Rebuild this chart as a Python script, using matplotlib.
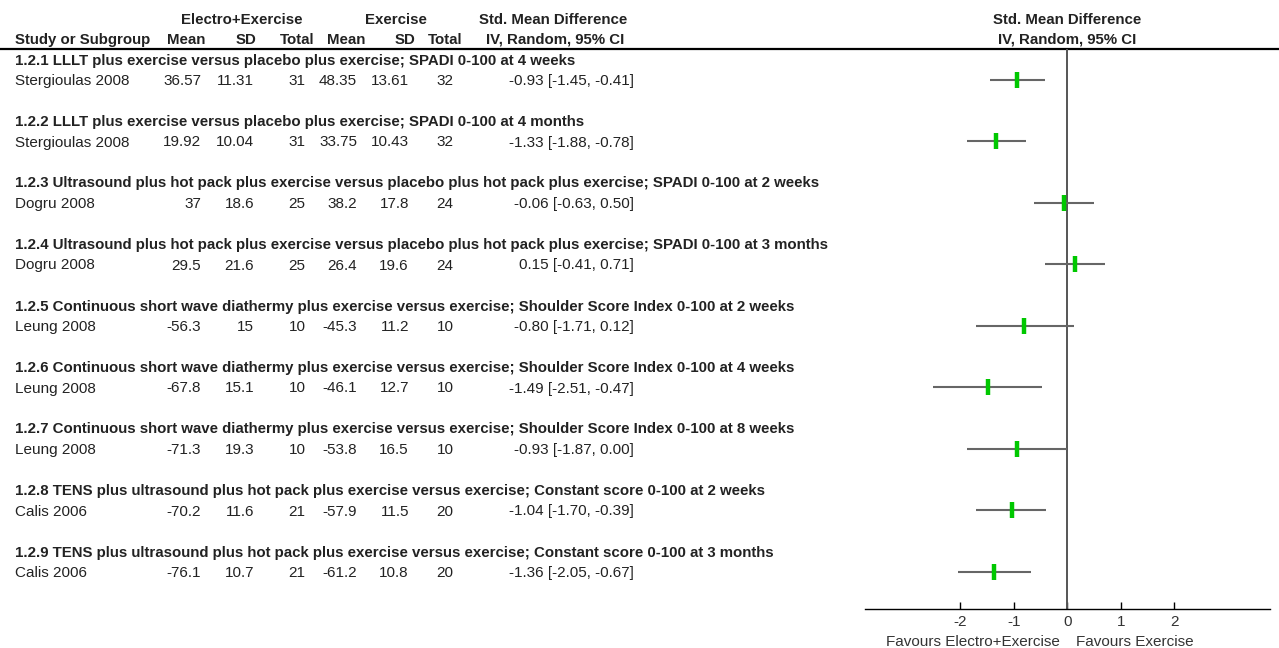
import numpy as np
import matplotlib.pyplot as plt

plt.rcParams['font.family'] = ['Liberation Sans', 'DejaVu Sans']

# data
subgroups = [
    "1.2.1 LLLT plus exercise versus placebo plus exercise; SPADI 0-100 at 4 weeks",
    "1.2.2 LLLT plus exercise versus placebo plus exercise; SPADI 0-100 at 4 months",
    "1.2.3 Ultrasound plus hot pack plus exercise versus placebo plus hot pack plus exercise; SPADI 0-100 at 2 weeks",
    "1.2.4 Ultrasound plus hot pack plus exercise versus placebo plus hot pack plus exercise; SPADI 0-100 at 3 months",
    "1.2.5 Continuous short wave diathermy plus exercise versus exercise; Shoulder Score Index 0-100 at 2 weeks",
    "1.2.6 Continuous short wave diathermy plus exercise versus exercise; Shoulder Score Index 0-100 at 4 weeks",
    "1.2.7 Continuous short wave diathermy plus exercise versus exercise; Shoulder Score Index 0-100 at 8 weeks",
    "1.2.8 TENS plus ultrasound plus hot pack plus exercise versus exercise; Constant score 0-100 at 2 weeks",
    "1.2.9 TENS plus ultrasound plus hot pack plus exercise versus exercise; Constant score 0-100 at 3 months",
]
studies = ["Stergioulas 2008", "Stergioulas 2008", "Dogru 2008", "Dogru 2008",
           "Leung 2008", "Leung 2008", "Leung 2008", "Calis 2006", "Calis 2006"]
e_mean = ["36.57", "19.92", "37", "29.5", "-56.3", "-67.8", "-71.3", "-70.2", "-76.1"]
e_sd = ["11.31", "10.04", "18.6", "21.6", "15", "15.1", "19.3", "11.6", "10.7"]
e_n = [31, 31, 25, 25, 10, 10, 10, 21, 21]
c_mean = ["48.35", "33.75", "38.2", "26.4", "-45.3", "-46.1", "-53.8", "-57.9", "-61.2"]
c_sd = ["13.61", "10.43", "17.8", "19.6", "11.2", "12.7", "16.5", "11.5", "10.8"]
c_n = [32, 32, 24, 24, 10, 10, 10, 20, 20]
smd = np.array([-0.93, -1.33, -0.06, 0.15, -0.80, -1.49, -0.93, -1.04, -1.36])
lo = np.array([-1.45, -1.88, -0.63, -0.41, -1.71, -2.51, -1.87, -1.70, -2.05])
hi = np.array([-0.41, -0.78, 0.50, 0.71, 0.12, -0.47, 0.00, -0.39, -0.67])
ticks = [-2, -1, 0, 1, 2]

W, H = 1279, 648
fig = plt.figure(figsize=(W / 100, H / 100), dpi=100)
ax = fig.add_axes([0, 0, 1, 1])
ax.set_xlim(0, W)
ax.set_ylim(H, 0)
ax.axis('off')

fs = 11
fsb = 10.8
tc = '#222222'
y0, dy = 59, 20.5
hdr_y = [18, 38.5]

# header
bold = dict(fontsize=fsb, fontweight='bold', color=tc, va='center_baseline')
ax.text(242, hdr_y[0], "Electro+Exercise", ha='center', **bold)
ax.text(396, hdr_y[0], "Exercise", ha='center', **bold)
ax.text(553, hdr_y[0], "Std. Mean Difference", ha='center', **bold)
ax.text(1067, hdr_y[0], "Std. Mean Difference", ha='center', **bold)
ax.text(15, hdr_y[1], "Study or Subgroup", ha='left', **bold)
for x, s in [(205, "Mean"), (256, "SD"), (365, "Mean"), (415, "SD"), (624, "IV, Random, 95% CI")]:
    ax.text(x, hdr_y[1], s, ha='right', **bold)
ax.text(297, hdr_y[1], "Total", ha='center', **bold)
ax.text(445, hdr_y[1], "Total", ha='center', **bold)
ax.text(1067, hdr_y[1], "IV, Random, 95% CI", ha='center', **bold)
ax.axhline(48.5, color='black', lw=1.6)

norm = dict(fontsize=fs, color=tc, va='center_baseline')
for i in range(len(studies)):
    yh = y0 + 3 * i * dy
    ys = yh + dy
    ax.text(15, yh, subgroups[i], ha='left', **bold)
    ax.text(15, ys, studies[i], ha='left', **norm)
    ax.text(201, ys, e_mean[i], ha='right', **norm)
    ax.text(254, ys, e_sd[i], ha='right', **norm)
    ax.text(297, ys, str(e_n[i]), ha='center', **norm)
    ax.text(357, ys, c_mean[i], ha='right', **norm)
    ax.text(409, ys, c_sd[i], ha='right', **norm)
    ax.text(445, ys, str(c_n[i]), ha='center', **norm)
    ax.text(634, ys, "%.2f [%.2f, %.2f]" % (smd[i], lo[i], hi[i]), ha='right', **norm)

# forest panel
ax_top, ax_bot = 48.5, 609
fx = fig.add_axes([865 / W, (H - ax_bot) / H, 405 / W, (ax_bot - ax_top) / H])
fx.set_xlim(-3.78, 3.79)
fx.set_ylim(ax_bot, ax_top)
fx.patch.set_alpha(0)
for s in ['left', 'right', 'top']:
    fx.spines[s].set_visible(False)
fx.spines['bottom'].set_color('black')
fx.spines['bottom'].set_linewidth(1.0)
fx.set_yticks([])
fx.set_xticks(ticks)
fx.set_xticklabels([str(t) for t in ticks])
fx.tick_params(axis='x', direction='in', length=5, width=1, pad=4,
               labelsize=fs, labelcolor='#333333', color='black')
fx.axvline(0, color='#555555', lw=1.4)

ys = y0 + dy + 3 * dy * np.arange(len(smd))
fx.hlines(ys, lo, hi, color='#666666', lw=1.5)
fx.plot(smd, ys, ls='none', marker='|', markersize=11, mew=3.2, color='#00c800')

ax.text(1060, 640, "Favours Electro+Exercise", ha='right', fontsize=fs, color='#333333', va='center_baseline')
ax.text(1076, 640, "Favours Exercise", ha='left', fontsize=fs, color='#333333', va='center_baseline')

fig.savefig('out.png', dpi=100)
